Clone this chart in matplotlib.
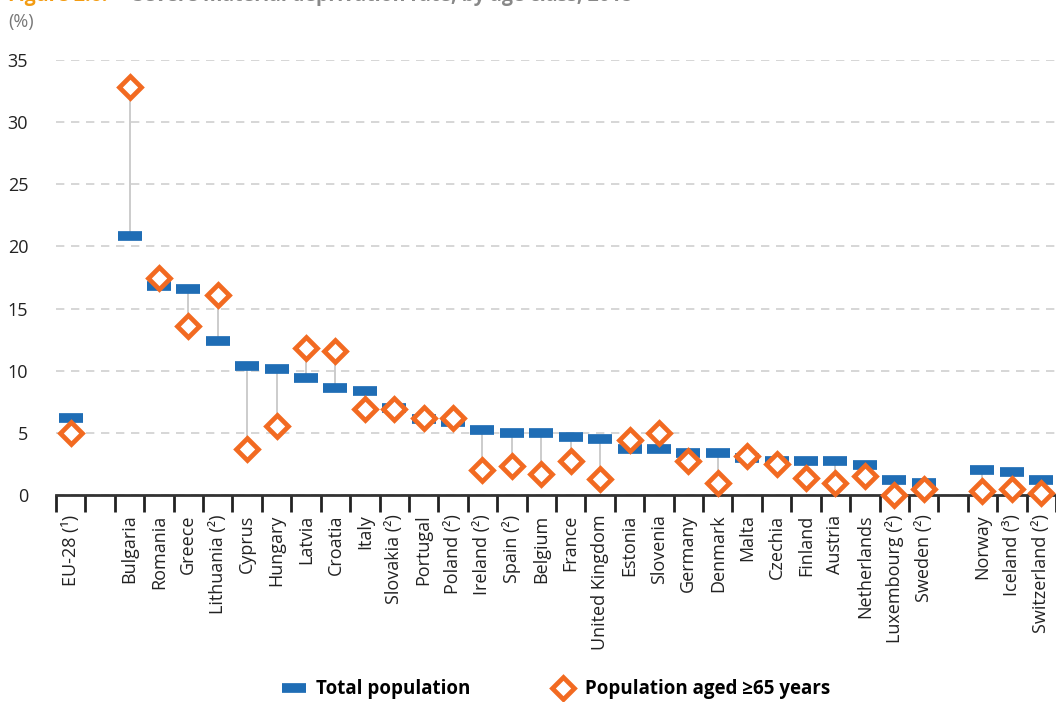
import numpy as np
import matplotlib
matplotlib.use('Agg')
import matplotlib.pyplot as plt

plt.rcParams['font.family'] = ['Open Sans', 'DejaVu Sans']

countries = ['EU-28 (¹)', '', 'Bulgaria', 'Romania', 'Greece', 'Lithuania (²)', 'Cyprus',
             'Hungary', 'Latvia', 'Croatia', 'Italy', 'Slovakia (²)', 'Portugal',
             'Poland (²)', 'Ireland (²)', 'Spain (²)', 'Belgium', 'France',
             'United Kingdom', 'Estonia', 'Slovenia', 'Germany', 'Denmark', 'Malta',
             'Czechia', 'Finland', 'Austria', 'Netherlands', 'Luxembourg (²)',
             'Sweden (²)', '', 'Norway', 'Iceland (³)', 'Switzerland (²)']

total = [6.2, None, 20.8, 16.8, 16.6, 12.4, 10.4, 10.1, 9.4, 8.6, 8.4, 7.0, 6.1,
         5.9, 5.2, 5.0, 5.0, 4.7, 4.5, 3.7, 3.7, 3.35, 3.35, 3.0, 2.7, 2.7, 2.7,
         2.4, 1.2, 1.0, None, 2.0, 1.85, 1.2]

aged65 = [5.0, None, 32.8, 17.5, 13.6, 16.1, 3.7, 5.55, 11.8, 11.6, 6.9, 6.9, 6.2,
          6.2, 2.0, 2.3, 1.7, 2.7, 1.3, 4.4, 5.0, 2.7, 1.0, 3.1, 2.5, 1.35, 1.0,
          1.5, 0.0, 0.5, None, 0.35, 0.5, 0.15]

blue = '#1f6db5'
orange = '#f26a21'

fig = plt.figure(figsize=(10.56, 7.02), dpi=100)
ax = fig.add_axes([56 / 1056, 1 - 495 / 702, 1 - 56 / 1056, 435 / 702])

xs = np.arange(len(countries))
for i in xs:
    if total[i] is None:
        continue
    ax.plot([i, i], [total[i], aged65[i]], color='#c4c4c4', lw=1.2, zorder=1)

tx = [i for i in xs if total[i] is not None]
ax.plot(tx, [total[i] for i in tx], ls='none', marker='_', ms=17, mew=7,
        color=blue, zorder=2, label='Total population')
ax.plot(tx, [aged65[i] for i in tx], ls='none', marker='D', ms=11.5, mew=3.4,
        mfc='white', mec=orange, zorder=3, clip_on=False,
        label='Population aged ≥65 years')

ax.set_xlim(-0.5, len(countries) - 0.5)
ax.set_ylim(0, 35)
ax.set_yticks(range(0, 36, 5))
ax.grid(axis='y', color='#cfcfcf', ls=(0, (5, 4)), lw=1.2)
ax.set_axisbelow(True)

ax.set_xticks(xs)
ax.set_xticklabels(countries, rotation=90, fontsize=13, color='#222222')
ax.set_xticks(np.arange(-0.5, len(countries)), minor=True)
ax.tick_params(axis='x', which='major', length=0, pad=14)
ax.tick_params(axis='x', which='minor', length=12, width=2, color='#222222',
               direction='out')
ax.tick_params(axis='y', length=0, pad=20, labelsize=13, labelcolor='#222222')

for s in ['top', 'right', 'left']:
    ax.spines[s].set_visible(False)
ax.spines['bottom'].set_linewidth(2)
ax.spines['bottom'].set_color('#333333')

fig.text(0.008, 0.968, '(%)', fontsize=13, color='#777777', va='center')
fig.text(0.008, 1.006, 'Figure 2.6:', fontsize=14, fontweight='bold',
         color='#f39c12', va='center')
fig.text(0.126, 1.006, 'Severe material deprivation rate, by age class, 2018',
         fontsize=14, fontweight='bold', color='#888888', va='center')

fig.legend(loc='lower center', bbox_to_anchor=(0.527, -0.02), ncol=2,
           frameon=False, handlelength=1.2, handletextpad=0.6, columnspacing=4.3,
           prop={'weight': 'bold', 'size': 13.5})

fig.savefig('out.png', dpi=100)
